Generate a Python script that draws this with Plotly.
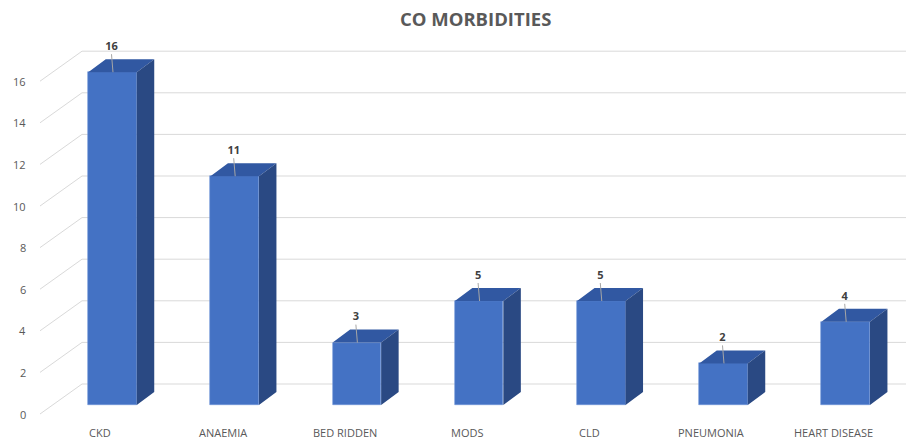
import plotly.graph_objects as go

# Co-morbidity counts
categories = ["CKD", "ANAEMIA", "BED RIDDEN", "MODS", "CLD", "PNEUMONIA", "HEART DISEASE"]
counts = [16, 11, 3, 5, 5, 2, 4]
y_ticks = [0, 2, 4, 6, 8, 10, 12, 14, 16]

# Pixel scale of the axes (used to express the oblique 3D offsets in data units)
PX_PER_X = 122.2
PX_PER_Y = 20.8
X_RANGE = [-0.675, -0.675 + 876 / PX_PER_X]
Y_RANGE = [-32 / PX_PER_Y, -32 / PX_PER_Y + 437 / PX_PER_Y]


def ux(px):
    return px / PX_PER_X


def uy(px):
    return px / PX_PER_Y


BAR_W = ux(48.5)
# bar depth (front face -> back face)
DEPTH_X, DEPTH_Y = ux(17.5), uy(13)
# front plane (tick labels) and back wall relative to the bar front faces
FRONT_X, FRONT_Y = ux(-12), uy(-9)
WALL_X, WALL_Y = ux(30), uy(21)

FRONT_COL = "#4472C4"
TOP_COL = "#3158A2"
SIDE_COL = "#2A4983"
GRID_COL = "#D9D9D9"
TEXT_COL = "#595959"

fig = go.Figure()

# back-wall gridlines plus the diagonal lines to the front plane (kept below the bars)
x_front = X_RANGE[0] + ux(10)
for v in y_ticks:
    fig.add_shape(type="line", xref="x", yref="y", layer="below",
                  x0=x_front, y0=v + FRONT_Y, x1=x_front + (WALL_X - FRONT_X), y1=v + WALL_Y,
                  line=dict(color=GRID_COL, width=1))
    fig.add_shape(type="line", xref="x", yref="y", layer="below",
                  x0=x_front + (WALL_X - FRONT_X), y0=v + WALL_Y, x1=X_RANGE[1], y1=v + WALL_Y,
                  line=dict(color=GRID_COL, width=1))
    # tick label on the front plane, just left of the plot area
    fig.add_annotation(x=0, xshift=-2, y=v + FRONT_Y, xref="paper", yref="y",
                       text=str(v), showarrow=False, xanchor="right", yanchor="middle",
                       font=dict(family="Open Sans", size=11, color=TEXT_COL))

# front faces
xs = list(range(len(categories)))
fig.add_trace(go.Bar(x=xs, y=counts, width=BAR_W,
                     marker=dict(color=FRONT_COL, line=dict(width=0.6, color="#6F93D6")),
                     hoverinfo="skip", showlegend=False))

# top and side faces
tx, ty, sx, sy = [], [], [], []
for i, v in zip(xs, counts):
    l, r = i - BAR_W / 2, i + BAR_W / 2
    tx += [l, l + DEPTH_X, r + DEPTH_X, r, l, None]
    ty += [v, v + DEPTH_Y, v + DEPTH_Y, v, v, None]
    sx += [r, r + DEPTH_X, r + DEPTH_X, r, r, None]
    sy += [0, DEPTH_Y, v + DEPTH_Y, v, 0, None]
fig.add_trace(go.Scatter(x=tx, y=ty, mode="lines", fill="toself", fillcolor=TOP_COL,
                         line=dict(width=0, color=TOP_COL), hoverinfo="skip", showlegend=False))
fig.add_trace(go.Scatter(x=sx, y=sy, mode="lines", fill="toself", fillcolor=SIDE_COL,
                         line=dict(width=0, color=SIDE_COL), hoverinfo="skip", showlegend=False))

# leader lines and value labels
lx, ly = [], []
for i, v in zip(xs, counts):
    lx += [i + ux(-1), i + ux(0.5), None]
    ly += [v + uy(18), v, None]
fig.add_trace(go.Scatter(x=lx, y=ly, mode="lines", line=dict(color="#A6A6A6", width=1),
                         hoverinfo="skip", showlegend=False))
fig.add_trace(go.Scatter(x=[i + ux(-1) for i in xs], y=[v + uy(25) for v in counts],
                         mode="text", text=[str(v) for v in counts],
                         textfont=dict(family="Open Sans", size=11, color="#404040", weight="bold"),
                         hoverinfo="skip", showlegend=False))

# category labels along the front plane
for i, name in zip(xs, categories):
    fig.add_annotation(x=i + FRONT_X, y=Y_RANGE[0] + uy(14), xref="x", yref="y",
                       text=name, showarrow=False, yanchor="top", xanchor="center",
                       font=dict(family="Open Sans", size=11, color=TEXT_COL))

fig.update_layout(
    width=906, height=437,
    margin=dict(l=30, r=0, t=0, b=0),
    paper_bgcolor="white", plot_bgcolor="white",
    title=dict(text="CO MORBIDITIES", x=0.525, xanchor="center", y=0.955, yanchor="middle",
               font=dict(family="Open Sans", size=18.5, color=TEXT_COL, weight="bold")),
    xaxis=dict(range=X_RANGE, visible=False),
    yaxis=dict(range=Y_RANGE, visible=False),
    bargap=0,
)

fig.write_html("out.html")
